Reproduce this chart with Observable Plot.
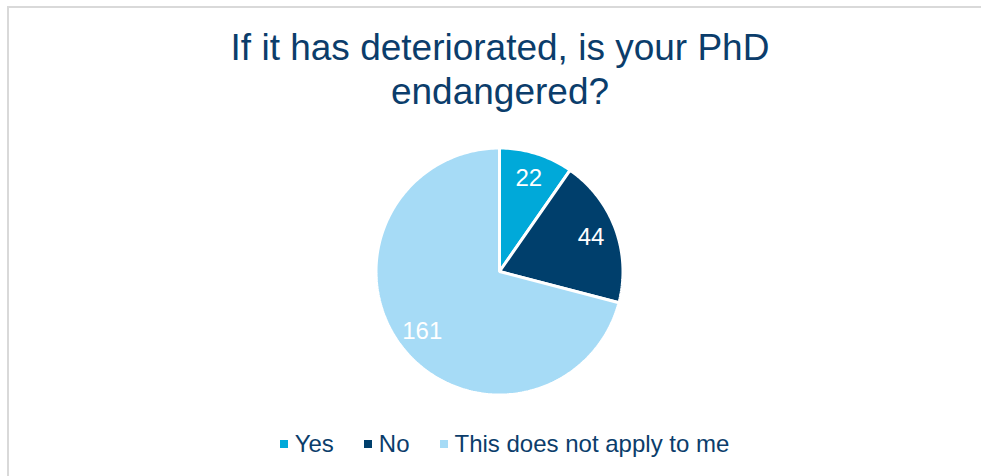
<!DOCTYPE html>
<html>
<head>
<meta charset="utf-8">
<script src="https://cdn.jsdelivr.net/npm/d3@7"></script>
<script src="https://cdn.jsdelivr.net/npm/@observablehq/plot@0.6"></script>
<style>
  html, body { margin: 0; padding: 0; background: #fff; width: 981px; height: 476px; overflow: hidden; }
  body { font-family: "Liberation Sans", Arial, sans-serif; position: relative; }
  #frame { position: absolute; left: 7px; top: 6px; width: 1000px; height: 500px; border: 2px solid #d9d9d9; box-sizing: border-box; }
  #title { position: absolute; left: 0; width: 1000px; top: 26px; text-align: center; color: #0b3d6b; font-size: 37px; line-height: 44px; }
  #chart { position: absolute; left: 373.5px; top: 145.5px; }
  #legend { position: absolute; top: 429px; left: 0; width: 1009px; display: flex; justify-content: center; align-items: center; color: #0b3d6b; font-size: 24px; line-height: 30px; }
  .item { display: flex; align-items: center; margin: 0 15px; }
  .sw { width: 8px; height: 8px; margin-right: 7px; }
</style>
</head>
<body>
<div id="frame"></div>
<div id="title">If it has deteriorated, is your PhD<br>endangered?</div>
<div id="chart"></div>
<div id="legend"></div>
<script>
const categories = ["Yes", "No", "This does not apply to me"];
const values = [22, 44, 161];
const colors = ["#00a9d9", "#003f6c", "#a6dbf6"];

const data = categories.map((c, i) => ({category: c, value: values[i], color: colors[i]}));
const arcs = d3.pie().sort(null).value(d => d.value)(data);

function slicePolygon(a) {
  const pts = [{x: 0, y: 0}];
  const n = Math.max(2, Math.ceil((a.endAngle - a.startAngle) / (Math.PI / 180)));
  for (let k = 0; k <= n; k++) {
    const t = a.startAngle + (a.endAngle - a.startAngle) * k / n;
    pts.push({x: Math.sin(t), y: Math.cos(t)});
  }
  return pts;
}

const labelR = 0.79;
const labels = arcs.map(a => {
  const m = (a.startAngle + a.endAngle) / 2;
  return {x: labelR * Math.sin(m), y: labelR * Math.cos(m), text: String(a.data.value)};
});

const sliceMarks = arcs.map(a => Plot.line(slicePolygon(a), {
  x: "x", y: "y", curve: "linear-closed",
  fill: a.data.color, stroke: "white", strokeWidth: 3, strokeLinejoin: "miter"
}));

const plot = Plot.plot({
  width: 250,
  height: 250,
  margin: 1.5,
  x: {domain: [-1, 1], axis: null},
  y: {domain: [-1, 1], axis: null},
  style: {background: "transparent", fontFamily: "Liberation Sans, Arial, sans-serif"},
  marks: [
    ...sliceMarks,
    Plot.text(labels, {x: "x", y: "y", text: "text", fill: "white", fontSize: 24, fontFamily: "Liberation Sans, Arial, sans-serif"})
  ]
});
document.getElementById("chart").appendChild(plot);

const legend = document.getElementById("legend");
data.forEach(d => {
  const item = document.createElement("div");
  item.className = "item";
  const sw = document.createElement("span");
  sw.className = "sw";
  sw.style.background = d.color;
  const label = document.createElement("span");
  label.textContent = d.category;
  item.appendChild(sw);
  item.appendChild(label);
  legend.appendChild(item);
});
</script>
</body>
</html>
